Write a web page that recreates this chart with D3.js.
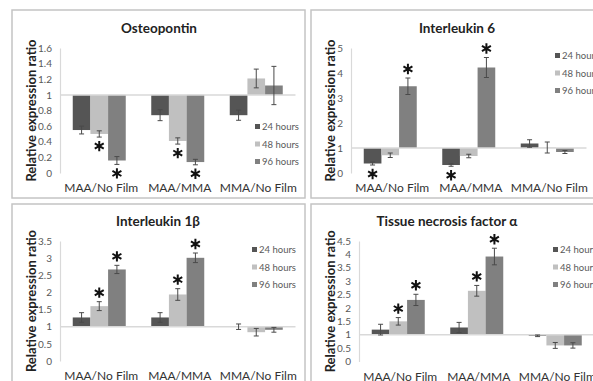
<!DOCTYPE html>
<html>
<head>
<meta charset="utf-8">
<script src="https://cdn.jsdelivr.net/npm/d3@7"></script>
<style>
body { margin: 0; background: #fff; }
svg { display: block; font-family: Lato, "Open Sans", sans-serif; }
</style>
</head>
<body>
<svg id="chart" width="593" height="381"></svg>
<script>
// categories and series
var categories = ["MAA/No Film", "MAA/MMA", "MMA/No Film"];
var seriesNames = ["24 hours", "48 hours", "96 hours"];

// Osteopontin: rows = 24h, 48h, 96h ; cols = categories
var opnValues = [[0.55, 0.74, 0.74], [0.50, 0.41, 1.21], [0.16, 0.14, 1.12]];
var opnErrors = [[0.05, 0.07, 0.065], [0.04, 0.04, 0.12], [0.05, 0.035, 0.245]];
var opnStars  = [[0, 0, 0], [1, 1, 0], [1, 1, 0]];
var opnTicks  = [0, 0.2, 0.4, 0.6, 0.8, 1, 1.2, 1.4, 1.6];

// Interleukin 6
var il6Values = [[0.38, 0.32, 1.18], [0.71, 0.68, 1.02], [3.47, 4.22, 0.84]];
var il6Errors = [[0.06, 0.05, 0.15], [0.09, 0.07, 0.22], [0.33, 0.40, 0.06]];
var il6Stars  = [[1, 1, 0], [0, 0, 0], [1, 1, 0]];
var il6Ticks  = [0, 1, 2, 3, 4, 5];

// Interleukin 1 beta
var il1Values = [[1.27, 1.27, 1.0], [1.60, 1.94, 0.84], [2.67, 3.01, 0.91]];
var il1Errors = [[0.14, 0.14, 0.08], [0.13, 0.17, 0.11], [0.12, 0.14, 0.07]];
var il1Stars  = [[0, 0, 0], [1, 1, 0], [1, 1, 0]];
var il1Ticks  = [0, 0.5, 1, 1.5, 2, 2.5, 3, 3.5];

// Tissue necrosis factor alpha
var tnfValues = [[1.19, 1.27, 0.96], [1.50, 2.64, 0.60], [2.30, 3.92, 0.60]];
var tnfErrors = [[0.20, 0.19, 0.03], [0.14, 0.20, 0.11], [0.21, 0.31, 0.10]];
var tnfStars  = [[0, 0, 0], [1, 1, 0], [1, 1, 0]];
var tnfTicks  = [0, 0.5, 1, 1.5, 2, 2.5, 3, 3.5, 4, 4.5];

var titles = ["Osteopontin", "Interleukin 6", "Interleukin 1\u03b2", "Tissue necrosis factor \u03b1"];

var colors = d3.scaleOrdinal().domain(seriesNames).range(["#555555", "#c0c0c0", "#808080"]);

// layout of the four chart boxes
var panels = [
  {title: titles[0], values: opnValues, errors: opnErrors, stars: opnStars, ticks: opnTicks,
   box: [12, 10, 293, 188], axisX: 60, top: 48, bottom: 173, titleX: 159, titleY: 33, legendX: 255, legendY: 127},
  {title: titles[1], values: il6Values, errors: il6Errors, stars: il6Stars, ticks: il6Ticks,
   box: [311, 10, 300, 188], axisX: 351, top: 48, bottom: 173, titleX: 457, titleY: 33, legendX: 555, legendY: 56},
  {title: titles[2], values: il1Values, errors: il1Errors, stars: il1Stars, ticks: il1Ticks,
   box: [12, 204, 293, 200], axisX: 60, top: 241, bottom: 361, titleX: 158, titleY: 226, legendX: 252, legendY: 250},
  {title: titles[3], values: tnfValues, errors: tnfErrors, stars: tnfStars, ticks: tnfTicks,
   box: [311, 204, 300, 200], axisX: 359, top: 241, bottom: 361.5, titleX: 447, titleY: 226, legendX: 553, legendY: 250}
];

var svg = d3.select("#chart");
var plotW = 235.5, groupW = 53;

panels.forEach(function(p) {
  var g = svg.append("g");

  g.append("rect")
    .attr("x", p.box[0]).attr("y", p.box[1])
    .attr("width", p.box[2]).attr("height", p.box[3])
    .attr("fill", "#fff").attr("stroke", "#c4c4c4").attr("stroke-width", 1.5);

  var y = d3.scaleLinear().domain([0, d3.max(p.ticks)]).range([p.bottom, p.top]);
  var x0 = d3.scaleBand().domain(categories).range([p.axisX, p.axisX + plotW]);
  var x1 = d3.scaleBand().domain(seriesNames).range([0, groupW]);
  var off = (x0.bandwidth() - groupW) / 2;

  // y axis
  var ax = g.append("g")
    .attr("transform", "translate(" + p.axisX + ",0)")
    .call(d3.axisLeft(y).tickValues(p.ticks).tickSize(0).tickPadding(8).tickFormat(d3.format("~g")));
  ax.select(".domain").attr("stroke", "#d9d9d9").attr("stroke-width", 1.2);
  ax.selectAll("text").attr("fill", "#595959").style("font-size", "10px").style("font-family", "Lato, sans-serif");

  // bars, hanging from the 1.0 line
  var cells = [];
  p.values.forEach(function(row, si) {
    row.forEach(function(v, ci) {
      cells.push({s: seriesNames[si], c: categories[ci], v: v, e: p.errors[si][ci], star: p.stars[si][ci]});
    });
  });

  g.selectAll(".bar").data(cells).enter().append("rect")
    .attr("x", function(d) { return x0(d.c) + off + x1(d.s); })
    .attr("y", function(d) { return Math.min(y(d.v), y(1)); })
    .attr("width", x1.bandwidth())
    .attr("height", function(d) { return Math.abs(y(d.v) - y(1)); })
    .attr("fill", function(d) { return colors(d.s); });

  // category axis crosses at 1
  g.append("line")
    .attr("x1", p.axisX).attr("x2", p.axisX + plotW)
    .attr("y1", y(1)).attr("y2", y(1))
    .attr("stroke", "#d9d9d9").attr("stroke-width", 1.5);

  // error bars
  var eb = g.selectAll(".err").data(cells).enter().append("g")
    .attr("transform", function(d) { return "translate(" + (x0(d.c) + off + x1(d.s) + x1.bandwidth() / 2) + ",0)"; })
    .attr("stroke", "#4a4a4a").attr("stroke-width", 1);
  eb.append("line").attr("y1", function(d) { return y(d.v - d.e); }).attr("y2", function(d) { return y(d.v + d.e); });
  eb.append("line").attr("x1", -2.5).attr("x2", 2.5).attr("y1", function(d) { return y(d.v - d.e); }).attr("y2", function(d) { return y(d.v - d.e); });
  eb.append("line").attr("x1", -2.5).attr("x2", 2.5).attr("y1", function(d) { return y(d.v + d.e); }).attr("y2", function(d) { return y(d.v + d.e); });

  // significance asterisks
  g.selectAll(".star").data(cells.filter(function(d) { return d.star; })).enter().append("path")
    .attr("d", d3.symbol(d3.symbolAsterisk, 75))
    .attr("transform", function(d) {
      var cx = x0(d.c) + off + x1(d.s) + x1.bandwidth() / 2;
      var cy = d.v < 1 ? y(d.v - d.e) + 9 : y(d.v + d.e) - 9;
      return "translate(" + cx + "," + cy + ")";
    })
    .attr("stroke", "#111").attr("stroke-width", 2).attr("fill", "none");

  // category labels
  g.selectAll(".cat").data(categories).enter().append("text")
    .attr("x", function(d) { return x0(d) + x0.bandwidth() / 2 + 2; })
    .attr("y", p.bottom + 19)
    .attr("text-anchor", "middle")
    .attr("fill", "#333")
    .style("font-size", "12px")
    .text(function(d) { return d; });

  // titles
  g.append("text")
    .attr("x", p.titleX).attr("y", p.titleY)
    .attr("text-anchor", "middle")
    .style("font-size", "13.5px").style("font-weight", "bold")
    .attr("fill", "#222")
    .text(p.title);

  g.append("text")
    .attr("transform", "translate(" + (p.box[0] + 24) + "," + (p.top + p.bottom) / 2 + ") rotate(-90)")
    .attr("text-anchor", "middle")
    .style("font-size", "13px").style("font-weight", "bold")
    .attr("fill", "#222")
    .text("Relative expression ratio");

  // legend
  var lg = g.selectAll(".leg").data(seriesNames).enter().append("g")
    .attr("transform", function(d, i) { return "translate(" + p.legendX + "," + (p.legendY + i * 17.5) + ")"; });
  lg.append("rect").attr("x", 0).attr("y", -3).attr("width", 5).attr("height", 5)
    .attr("fill", function(d) { return colors(d); });
  lg.append("text").attr("x", 7).attr("y", 3)
    .style("font-size", "9.5px").attr("fill", "#595959")
    .text(function(d) { return d; });
});
</script>
</body>
</html>
